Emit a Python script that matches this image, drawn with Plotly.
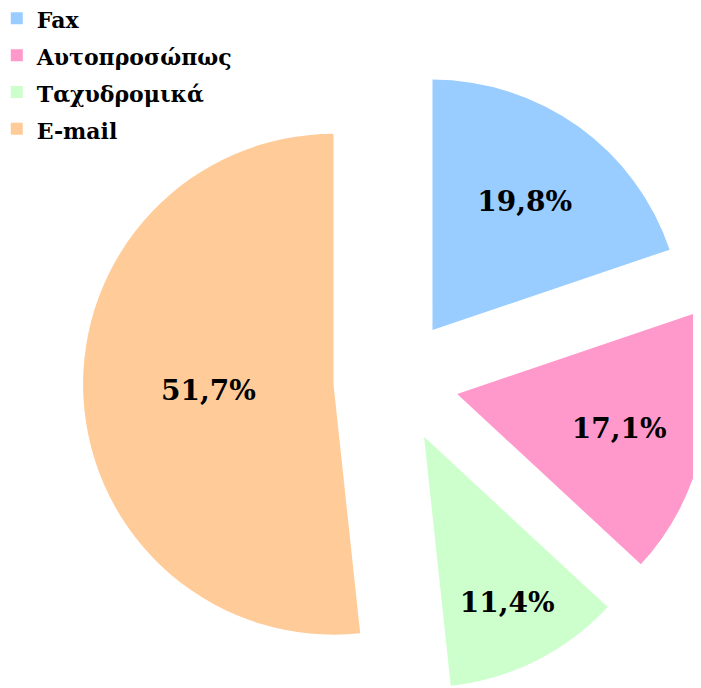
import plotly.graph_objects as go

categories = ["Fax", "Αυτοπροσώπως", "Ταχυδρομικά", "E-mail"]
values = [19.8, 17.1, 11.4, 51.7]
colors = ["#99CCFF", "#FF99CC", "#CCFFCC", "#FFCC99"]
labels_text = [f"{v:.1f}%".replace(".", ",") for v in values]
legend_labels = [f"<span style='font-size:22px'><b>{c}</b></span>" for c in categories]

fig = go.Figure(go.Pie(
    labels=legend_labels,
    values=values,
    text=labels_text,
    texttemplate="<b>%{text}</b>",
    textinfo="text",
    textposition="inside",
    insidetextorientation="horizontal",
    insidetextfont=dict(family="DejaVu Serif", size=28, color="black"),
    marker=dict(colors=colors, line=dict(width=0)),
    pull=[0.25, 0.25, 0.25, 0.25],
    sort=False,
    direction="clockwise",
    rotation=0,
    domain=dict(x=[0.107, 1.0], y=[0.0, 0.916]),
    hoverinfo="label+percent",
))

fig.update_layout(
    width=701,
    height=688,
    margin=dict(l=0, r=0, t=0, b=0, autoexpand=False),
    paper_bgcolor="white",
    plot_bgcolor="white",
    showlegend=True,
    legend=dict(
        x=-0.016, y=1.019, xanchor="left", yanchor="top",
        font=dict(family="DejaVu Serif", size=26, color="black"),
        bgcolor="rgba(0,0,0,0)",
    ),
    uniformtext=dict(minsize=28, mode="show"),
)

fig.write_html("out.html")
